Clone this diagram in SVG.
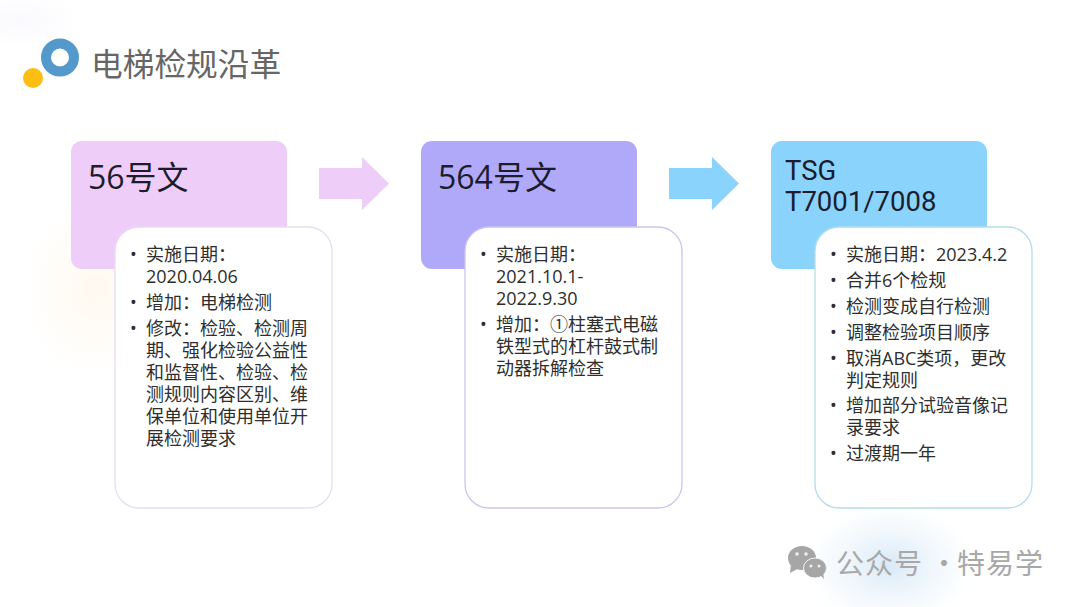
<svg xmlns="http://www.w3.org/2000/svg" width="1080" height="607" viewBox="0 0 1080 607">
<defs>
<style>
.h{font-family:"Open Sans","Noto Sans CJK SC","Noto Sans",sans-serif;font-size:32px;fill:#1c1c2c}
.h2{font-family:Roboto,"Noto Sans",sans-serif;font-size:27.500px}
.b{font-family:"Open Sans","Noto Sans CJK SC","Noto Sans",sans-serif;font-size:18px;fill:#2e2e2e}
.card{fill:#fff;stroke-width:1.3}
</style>
<radialGradient id="glowB"><stop offset="0" stop-color="#d2e5f5" stop-opacity=".85"/><stop offset="1" stop-color="#e4f0fa" stop-opacity="0"/></radialGradient>
<radialGradient id="glowY"><stop offset="0" stop-color="#fff3e0" stop-opacity=".55"/><stop offset="1" stop-color="#fff6e8" stop-opacity="0"/></radialGradient>
<radialGradient id="glowV"><stop offset="0" stop-color="#f6f5fc" stop-opacity=".6"/><stop offset="1" stop-color="#f6f5fc" stop-opacity="0"/></radialGradient>
</defs>
<rect width="1080" height="607" fill="#fff"/>
<ellipse cx="890" cy="565" rx="85" ry="62" fill="url(#glowB)"/>
<ellipse cx="95" cy="290" rx="75" ry="90" fill="url(#glowY)"/>
<ellipse cx="20" cy="20" rx="60" ry="30" fill="url(#glowV)"/>
<g id="logo">
<circle cx="60" cy="57.500" r="14" fill="#fff" stroke="#5499cc" stroke-width="10"/>
<circle cx="33" cy="78" r="10" fill="#fcbe12"/>
</g>
<g id="title"><text x="91" y="75.500" font-family="'Open Sans','Noto Sans CJK SC',sans-serif" font-size="31.700" fill="#666">电梯检规沿革</text></g>
<g id="connectors">
<polygon points="319,168 362,168 362,157 389,183.500 362,210 362,199 319,199" fill="#eecdf9"/>
<polygon points="669,168 712,168 712,157 739,183.500 712,210 712,199 669,199" fill="#8ad3fd"/>
</g>
<g id="node-56">
<rect x="71" y="141" width="216" height="128" rx="11" fill="#eecdf9"/>
<text class="h" x="88" y="189">56号文</text>
</g>
<g id="card-56">
<rect class="card" x="115" y="227" width="217" height="281" rx="24" stroke="#e8dcf2"/>
<g class="b">
<text x="130" y="261">•</text><text x="146" y="261">实施日期：</text>
<text x="146" y="283">2020.04.06</text>
<text x="130" y="309">•</text><text x="146" y="309">增加：电梯检测</text>
<text x="130" y="335">•</text><text x="146" y="335">修改：检验、检测周</text>
<text x="146" y="357">期、强化检验公益性</text>
<text x="146" y="379">和监督性、检验、检</text>
<text x="146" y="401">测规则内容区别、维</text>
<text x="146" y="423">保单位和使用单位开</text>
<text x="146" y="445">展检测要求</text>
</g>
</g>
<g id="node-564">
<rect x="421" y="141" width="216" height="128" rx="11" fill="#b0a9fa"/>
<text class="h" x="438" y="189">564号文</text>
</g>
<g id="card-564">
<rect class="card" x="465" y="227" width="217" height="281" rx="24" stroke="#c9c6ee"/>
<g class="b">
<text x="480" y="261">•</text><text x="496" y="261">实施日期：</text>
<text x="496" y="283">2021.10.1-</text>
<text x="496" y="305">2022.9.30</text>
<text x="480" y="331">•</text><text x="496" y="331">增加：①柱塞式电磁</text>
<text x="496" y="353">铁型式的杠杆鼓式制</text>
<text x="496" y="375">动器拆解检查</text>
</g>
</g>
<g id="node-tsg">
<rect x="771" y="141" width="216" height="128" rx="11" fill="#8ad3fd"/>
<text class="h h2" x="785" y="180">TSG</text>
<text class="h h2" x="785" y="211">T7001/7008</text>
</g>
<g id="card-tsg">
<rect class="card" x="815" y="227" width="217" height="281" rx="24" stroke="#b5dde8"/>
<g class="b">
<text x="830" y="261">•</text><text x="846" y="261">实施日期：2023.4.2</text>
<text x="830" y="287">•</text><text x="846" y="287">合并6个检规</text>
<text x="830" y="313">•</text><text x="846" y="313">检测变成自行检测</text>
<text x="830" y="339">•</text><text x="846" y="339">调整检验项目顺序</text>
<text x="830" y="365">•</text><text x="846" y="365">取消ABC类项，更改</text>
<text x="846" y="387">判定规则</text>
<text x="830" y="412">•</text><text x="846" y="412">增加部分试验音像记</text>
<text x="846" y="434">录要求</text>
<text x="830" y="460">•</text><text x="846" y="460">过渡期一年</text>
</g>
</g>
<g id="watermark">
<ellipse cx="802" cy="558" rx="14" ry="12" fill="#a6a6a6"/>
<polygon points="791,564 790,573 799,568" fill="#a6a6a6"/>
<ellipse cx="815" cy="568" rx="11.500" ry="10" fill="#a6a6a6" stroke="#f0f5fa" stroke-width="1"/>
<polygon points="820,575 824,579 823,572" fill="#a6a6a6"/>
<circle cx="797" cy="554" r="1.800" fill="#f0f0f0"/><circle cx="806" cy="554" r="1.800" fill="#f0f0f0"/>
<circle cx="811" cy="566" r="1.500" fill="#f0f0f0"/><circle cx="819" cy="566" r="1.500" fill="#f0f0f0"/>
<text y="574" font-family="'Noto Sans CJK SC',sans-serif" font-size="28" fill="#a8a8a8" letter-spacing="1"><tspan x="836">公众号</tspan><tspan x="930">·</tspan><tspan x="957">特易学</tspan></text>
</g>
</svg>
